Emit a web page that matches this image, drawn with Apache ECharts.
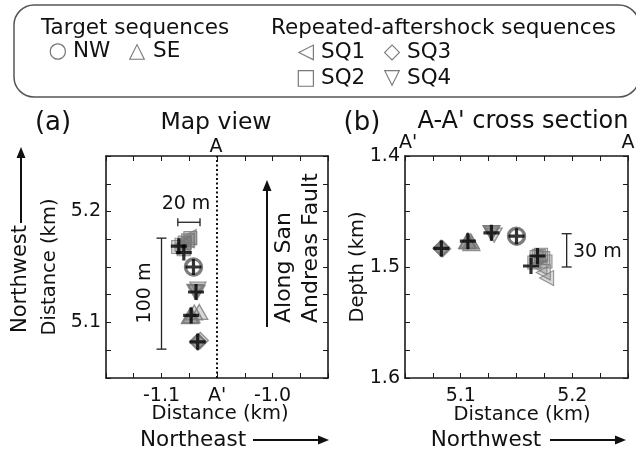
<!DOCTYPE html>
<html>
<head>
<meta charset="utf-8">
<script src="https://cdn.jsdelivr.net/npm/echarts@6/dist/echarts.min.js"></script>
<style>
  html, body { margin: 0; padding: 0; background: #fff; }
  #chart { width: 636px; height: 455px; }
</style>
</head>
<body>
<div id="chart"></div>
<script>
// Event locations in km: distance to the northeast (NE), distance along
// strike to the northwest (NW) and depth.

// Target sequences
const nwTargetNE    = [-1.0712, -1.0709, -1.0715];
const nwTargetNW    = [5.1500, 5.1497, 5.1503];
const nwTargetDepth = [1.4722, 1.4719, 1.4725];

const seTargetNE    = [-1.0745, -1.0738, -1.0730, -1.0705, -1.0660];
const seTargetNW    = [5.1058, 5.1062, 5.1066, 5.1090, 5.1095];
const seTargetDepth = [1.4765, 1.4770, 1.4762, 1.4768, 1.4785];

// Repeated-aftershock sequences
const sq1NE    = [-1.0800, -1.0770, -1.0750];
const sq1NW    = [5.1710, 5.1740, 5.1770];
const sq1Depth = [1.5000, 1.5050, 1.5100];

const sq2NE    = [-1.0850, -1.0820, -1.0790, -1.0760, -1.0740, -1.0800];
const sq2NW    = [5.1680, 5.1700, 5.1720, 5.1740, 5.1760, 5.1660];
const sq2Depth = [1.4910, 1.4900, 1.4890, 1.4920, 1.4950, 1.4960];

const sq3NE    = [-1.0676, -1.0672, -1.0669, -1.0650];
const sq3NW    = [5.0824, 5.0828, 5.0826, 5.0838];
const sq3Depth = [1.4830, 1.4835, 1.4832, 1.4836];

const sq4NE    = [-1.0700, -1.0690, -1.0680, -1.0672];
const sq4NW    = [5.1280, 5.1275, 5.1272, 5.1300];
const sq4Depth = [1.4690, 1.4695, 1.4690, 1.4712];

// Main events of each cluster (black crosses)
const mainNE    = [-1.0674, -1.0733, -1.0689, -1.0712, -1.0844, -1.0799];
const mainNW    = [5.0826, 5.1064, 5.1275, 5.1500, 5.1688, 5.1630];
const mainDepth = [1.4833, 1.4767, 1.4692, 1.4722, 1.4901, 1.4991];

// Cross-section line A-A' (NE coordinate)
const sectionNE = -1.05;

// Scale bars
const bar100 = { ne: -1.1, nw: [5.076, 5.176] };      // 100 m, map view
const bar20  = { ne: [-1.0853, -1.0653], nw: 5.1903 }; // 20 m, map view
const bar30  = { nw: 5.195, depth: [1.47, 1.50] };     // 30 m, cross section

// Tick labels
const mapXTicks  = [-1.1, -1.05, -1.0];
const mapXText   = ['-1.1', "A'", '-1.0'];
const mapYTicks  = [5.1, 5.2];
const mapYText   = ['5.1', '5.2'];
const secXTicks  = [5.1, 5.2];
const secXText   = ['5.1', '5.2'];
const secYTicks  = [1.4, 1.5, 1.6];
const secYText   = ['1.4', '1.5', '1.6'];

const FONT = '"DejaVu Sans", Verdana, sans-serif';
const INK = '#111';
const GRAY = '#7a7a7a';

function pickLabel(ticks, texts) {
  return function (v) {
    for (let i = 0; i < ticks.length; i++) {
      if (Math.abs(v - ticks[i]) < 1e-6) return texts[i];
    }
    return '';
  };
}

const zip2 = (a, b) => a.map((v, i) => [v, b[i]]);

const SYM = {
  circle: 'circle',
  up: 'triangle',
  down: 'path://M0,0L10,0L5,8.66Z',
  left: 'path://M0,5L8.66,0L8.66,10Z',
  square: 'rect',
  diamond: 'diamond',
  plus: 'path://M4,0H6V10H4Z M0,4H10V6H0Z'
};

function axisBase(min, max, extra) {
  return Object.assign({
    type: 'value', min: min, max: max, interval: 0.025,
    splitLine: { show: false },
    axisLine: { show: true, onZero: false, lineStyle: { color: '#1a1a1a', width: 1.6 } },
    axisTick: { show: true, inside: true, length: 5, lineStyle: { color: '#1a1a1a', width: 1 } },
    axisLabel: { show: false }
  }, extra || {});
}

function labelStyle(fn, margin) {
  return {
    show: true, formatter: fn, margin: margin,
    showMinLabel: true, showMaxLabel: true, hideOverlap: false,
    fontFamily: FONT, fontSize: 19, color: INK
  };
}

function grayStyle(width) {
  return {
    color: 'rgba(110,110,110,0.33)',
    borderColor: GRAY,
    borderWidth: width || 1.2
  };
}

function scatter(name, xs, ys, symbol, size, xi, yi, style, z) {
  return {
    name: name, type: 'scatter', xAxisIndex: xi, yAxisIndex: yi,
    data: zip2(xs, ys), symbol: symbol, symbolSize: size,
    itemStyle: style, z: z || 3, silent: true
  };
}

// I-beam shaped scale bar drawn in data coordinates
function scaleBar(name, xi, yi, seg, vertical) {
  return {
    name: name, type: 'custom', xAxisIndex: xi, yAxisIndex: yi,
    data: [seg], z: 4, silent: true, clip: false,
    renderItem: function (params, api) {
      const p0 = api.coord([api.value(0), api.value(1)]);
      const p1 = api.coord([api.value(2), api.value(3)]);
      const h = vertical ? 5 : 4;
      const st = { stroke: '#222', lineWidth: 1.3 };
      const cap = function (p) {
        return vertical
          ? { type: 'line', shape: { x1: p[0] - h, y1: p[1], x2: p[0] + h, y2: p[1] }, style: st }
          : { type: 'line', shape: { x1: p[0], y1: p[1] - h, x2: p[0], y2: p[1] + h }, style: st };
      };
      return {
        type: 'group',
        children: [
          { type: 'line', shape: { x1: p0[0], y1: p0[1], x2: p1[0], y2: p1[1] }, style: st },
          cap(p0), cap(p1)
        ]
      };
    }
  };
}

function panelSeries(xs, ys, xi, yi) {
  // xs/ys: functions picking the horizontal / vertical coordinate of a set
  return [
    scatter('SQ2', xs('sq2'), ys('sq2'), SYM.square, 13, xi, yi, grayStyle(1.1)),
    scatter('SQ1', xs('sq1'), ys('sq1'), SYM.left, [14, 15], xi, yi, grayStyle(1.1)),
    scatter('SQ3', xs('sq3'), ys('sq3'), SYM.diamond, 16, xi, yi, grayStyle(1.3)),
    scatter('SQ4', xs('sq4'), ys('sq4'), SYM.down, [16, 14], xi, yi, grayStyle(1.3)),
    scatter('SE', xs('se'), ys('se'), SYM.up, [17, 15], xi, yi, grayStyle(1.3)),
    scatter('NW', xs('nw'), ys('nw'), SYM.circle, 16, xi, yi,
      { color: 'rgba(255,255,255,0)', borderColor: GRAY, borderWidth: 2.8 }),
    scatter('main', xs('main'), ys('main'), SYM.plus, 16, xi, yi, { color: '#000' }, 6)
  ];
}

const sets = {
  nw:   { ne: nwTargetNE, nw: nwTargetNW, d: nwTargetDepth },
  se:   { ne: seTargetNE, nw: seTargetNW, d: seTargetDepth },
  sq1:  { ne: sq1NE, nw: sq1NW, d: sq1Depth },
  sq2:  { ne: sq2NE, nw: sq2NW, d: sq2Depth },
  sq3:  { ne: sq3NE, nw: sq3NW, d: sq3Depth },
  sq4:  { ne: sq4NE, nw: sq4NW, d: sq4Depth },
  main: { ne: mainNE, nw: mainNW, d: mainDepth }
};

const series = []
  .concat(panelSeries(k => sets[k].ne, k => sets[k].nw, 0, 0))
  .concat(panelSeries(k => sets[k].nw, k => sets[k].d, 2, 2));

series.push({
  name: 'A-A\'', type: 'line', xAxisIndex: 0, yAxisIndex: 0,
  data: [[sectionNE, 5.05], [sectionNE, 5.25]], symbol: 'none', silent: true,
  lineStyle: { color: INK, width: 2, type: [2, 2.5] }, z: 2
});
series.push(scaleBar('100 m', 0, 0, [bar100.ne, bar100.nw[0], bar100.ne, bar100.nw[1]], true));
series.push(scaleBar('20 m', 0, 0, [bar20.ne[0], bar20.nw, bar20.ne[1], bar20.nw], false));
series.push(scaleBar('30 m', 2, 2, [bar30.nw, bar30.depth[0], bar30.nw, bar30.depth[1]], true));

function txt(text, x, y, size, opts) {
  opts = opts || {};
  return {
    type: 'text', x: x, y: y, rotation: opts.rot || 0, z: 10, silent: true,
    style: {
      text: text, x: 0, y: 0, fill: opts.color || INK,
      font: size + 'px ' + FONT,
      textAlign: opts.align || 'center', textVerticalAlign: 'middle'
    }
  };
}

function arrow(x1, y1, x2, y2) {
  const ang = Math.atan2(y2 - y1, x2 - x1);
  const L = 11, W = 4.5;
  const bx = x2 - L * Math.cos(ang), by = y2 - L * Math.sin(ang);
  const nx = -Math.sin(ang) * W, ny = Math.cos(ang) * W;
  return [
    { type: 'line', z: 10, silent: true,
      shape: { x1: x1, y1: y1, x2: bx, y2: by }, style: { stroke: INK, lineWidth: 2 } },
    { type: 'polygon', z: 10, silent: true,
      shape: { points: [[x2, y2], [bx + nx, by + ny], [bx - nx, by - ny]] }, style: { fill: INK } }
  ];
}

const R90 = Math.PI / 2;
const LG = 21.5;
const graphics = [
  // legend frame
  { type: 'rect', z: 1, silent: true,
    shape: { x: 14, y: 5, width: 625, height: 92, r: 20 },
    style: { fill: 'none', stroke: '#555', lineWidth: 1.5 } },
  txt('Target sequences', 41, 28, LG, { align: 'left' }),
  txt('Repeated-aftershock sequences', 271, 28, LG, { align: 'left' }),
  txt('\u25CB', 58, 51, LG, { color: GRAY }), txt('NW', 73, 51, LG, { align: 'left' }),
  txt('\u25B3', 137, 51, LG, { color: GRAY }), txt('SE', 153, 51, LG, { align: 'left' }),
  txt('\u25C1', 306, 52, LG, { color: GRAY }), txt('SQ1', 321, 52, LG, { align: 'left' }),
  txt('\u25C7', 392, 52, LG, { color: GRAY }), txt('SQ3', 407, 52, LG, { align: 'left' }),
  txt('\u25A1', 306, 78, LG, { color: GRAY }), txt('SQ2', 321, 78, LG, { align: 'left' }),
  txt('\u25BD', 392, 78, LG, { color: GRAY }), txt('SQ4', 407, 78, LG, { align: 'left' }),

  // panel (a)
  txt('(a)', 53, 123, 26),
  txt('Map view', 216, 123, 23.5),
  txt('A', 216, 147, 19),
  txt('Distance (km)', 220, 414, 19.5),
  txt('Northeast', 193, 440, 21.5),
  txt('Distance (km)', 50, 267, 19.5, { rot: R90 }),
  txt('Northwest', 21, 279, 21, { rot: R90 }),
  txt('Along San', 284, 323, 22, { rot: R90, align: 'left' }),
  txt('Andreas Fault', 311, 323, 22, { rot: R90, align: 'left' }),
  txt('100 m', 145, 293, 19, { rot: R90 }),
  txt('20 m', 186, 204, 19),

  // panel (b)
  txt('(b)', 362, 123, 26),
  txt('A-A\' cross section', 523, 122, 24),
  txt('A\'', 408, 143, 19),
  txt('A', 628, 143, 19),
  txt('Distance (km)', 522, 415, 19.5),
  txt('Northwest', 486, 440, 21.5),
  txt('Depth (km)', 358, 267, 19.5, { rot: R90 }),
  txt('30 m', 573, 252, 19, { align: 'left' })
]
  .concat(arrow(21, 223, 21, 147))
  .concat(arrow(253, 440, 329, 440))
  .concat(arrow(267, 327, 267, 180))
  .concat(arrow(550, 440, 626, 440));

const option = {
  animation: false,
  backgroundColor: '#fff',
  grid: [
    { left: 106, top: 156, width: 222, height: 222, outerBoundsMode: 'none' },
    { left: 405, top: 156, width: 223, height: 222, outerBoundsMode: 'none' }
  ],
  xAxis: [
    axisBase(-1.15, -0.95, { gridIndex: 0, position: 'bottom',
      axisLabel: labelStyle(pickLabel(mapXTicks, mapXText), 9) }),
    axisBase(-1.15, -0.95, { gridIndex: 0, position: 'top' }),
    axisBase(5.05, 5.25, { gridIndex: 1, position: 'bottom',
      axisLabel: labelStyle(pickLabel(secXTicks, secXText), 9) }),
    axisBase(5.05, 5.25, { gridIndex: 1, position: 'top' })
  ],
  yAxis: [
    axisBase(5.05, 5.25, { gridIndex: 0, position: 'left',
      axisLabel: labelStyle(pickLabel(mapYTicks, mapYText), 5) }),
    axisBase(5.05, 5.25, { gridIndex: 0, position: 'right' }),
    axisBase(1.4, 1.6, { gridIndex: 1, position: 'left', inverse: true,
      axisLabel: labelStyle(pickLabel(secYTicks, secYText), 5) }),
    axisBase(1.4, 1.6, { gridIndex: 1, position: 'right', inverse: true })
  ],
  series: series,
  graphic: graphics
};

const chart = echarts.init(document.getElementById('chart'), null, { renderer: 'canvas' });
chart.setOption(option);
</script>
</body>
</html>
